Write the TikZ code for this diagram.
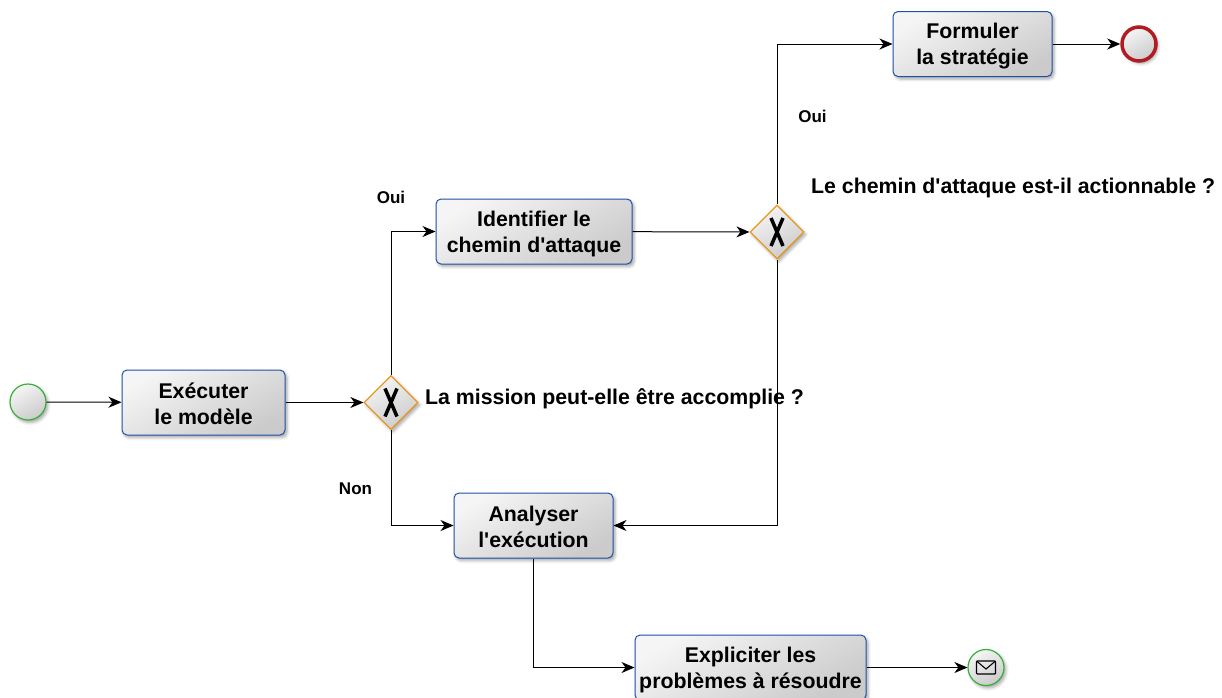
\documentclass[tikz,border=0pt]{standalone}
\usepackage{fontspec}
\setmainfont{Liberation Sans}
\usetikzlibrary{arrows.meta,shapes.geometric,shadows.blur,calc}
\definecolor{taskblue}{HTML}{1F4FA8}
\definecolor{startgreen}{HTML}{35B035}
\definecolor{stopred}{HTML}{B01C22}
\definecolor{gateorange}{HTML}{E8981E}
\definecolor{shadegray}{HTML}{CBCBCB}
\newcommand{\tasklines}[2]{\rule[-3.5pt]{0pt}{24pt}#1\\\rule[-3.5pt]{0pt}{24pt}#2}
\begin{document}
\begin{tikzpicture}[
  x=1pt, y=-1pt,
  softshadow/.style={blur shadow={shadow xshift=2pt, shadow yshift=-2.5pt, shadow blur radius=3pt, shadow opacity=35}},
  shaded/.style={shading=axis, left color=white!96!black, right color=shadegray, shading angle=30},
  task/.style={rectangle, rounded corners=5pt, draw=taskblue, line width=1pt, shaded, softshadow, inner sep=0pt, font=\fontsize{21.3}{26}\selectfont\bfseries, align=center},
  event/.style={circle, draw=startgreen, line width=1.2pt, minimum size=36pt, inner sep=0pt, shaded, softshadow},
  stopevent/.style={circle, draw=stopred, line width=3.5pt, minimum size=34pt, inner sep=0pt, shaded, softshadow},
  gateway/.style={diamond, draw=gateorange, line width=1.2pt, minimum size=54pt, inner sep=0pt, shaded, softshadow},
  gatemark/.style={line width=3.5pt, black},
  flow/.style={-{Stealth[length=13pt,width=11pt,inset=4pt]}, line width=1pt, black},
  question/.style={font=\fontsize{21.3}{24}\selectfont\bfseries, inner sep=0pt},
  answer/.style={font=\fontsize{17}{20}\selectfont\bfseries, inner sep=0pt}
]
\useasboundingbox (0,0) rectangle (1222,697);

\node[event] (start) at (28,402) {};
\node[task, minimum width=163pt, minimum height=65pt] (run) at (203.5,402.5) {\tasklines{Exécuter}{le modèle}};
\node[gateway] (gwmission) at (391,402.5) {};
\node[task, minimum width=196pt, minimum height=65pt] (path) at (534,231.5) {\tasklines{Identifier le}{chemin d\textquotesingle attaque}};
\node[gateway] (gwpath) at (777,232) {};
\node[task, minimum width=159pt, minimum height=65pt] (strategy) at (972.5,44) {\tasklines{Formuler}{la stratégie}};
\node[stopevent] (stop) at (1139,44) {};
\node[task, minimum width=159pt, minimum height=65pt] (analyse) at (533.5,525.5) {\tasklines{Analyser}{l\textquotesingle exécution}};
\node[task, minimum width=231pt, minimum height=65pt] (issues) at (750.5,667.5) {\tasklines{Expliciter les}{problèmes à résoudre}};
\node[event] (message) at (986,667.5) {};

% Gateway marks
\foreach \gw in {gwmission,gwpath} {
  \draw[gatemark] ($(\gw.center)+(-6,-14)$) -- ($(\gw.center)+(6,14)$);
  \draw[gatemark] ($(\gw.center)+(6,-14)$) -- ($(\gw.center)+(-6,14)$);
}

% Envelope
\draw[line width=1.1pt, rounded corners=0.8pt] ($(message.center)+(-9.5,-6.5)$) rectangle ($(message.center)+(9.5,6.5)$);
\draw[line width=1.1pt] ($(message.center)+(-9.5,-6.5)$) -- ($(message.center)+(0,1.5)$) -- ($(message.center)+(9.5,-6.5)$);

% Arrows
\draw[flow] (start) -- (run);
\draw[flow] (run) -- (gwmission);
\draw[flow] (gwmission.north) |- (path.west);
\draw[flow] (gwmission.south) |- (analyse.west);
\draw[flow] (path) -- (gwpath);
\draw[flow] (gwpath.north) |- (strategy.west);
\draw[flow] (gwpath.south) |- (analyse.east);
\draw[flow] (strategy) -- (stop);
\draw[flow] (analyse.south) |- (issues.west);
\draw[flow] (issues.east) -- (message);

% Labels
\node[question, anchor=west] (qmission) at (425,399) {La mission peut-elle être accomplie ?};
\node[question, anchor=west] (qpath) at (811,188) {Le chemin d\textquotesingle attaque est-il actionnable ?};
\node[answer] (yesmission) at (391,197.5) {Oui};
\node[answer] (nomission) at (355.5,488.5) {Non};
\node[answer] (yespath) at (812.5,116.5) {Oui};

\end{tikzpicture}
\end{document}
